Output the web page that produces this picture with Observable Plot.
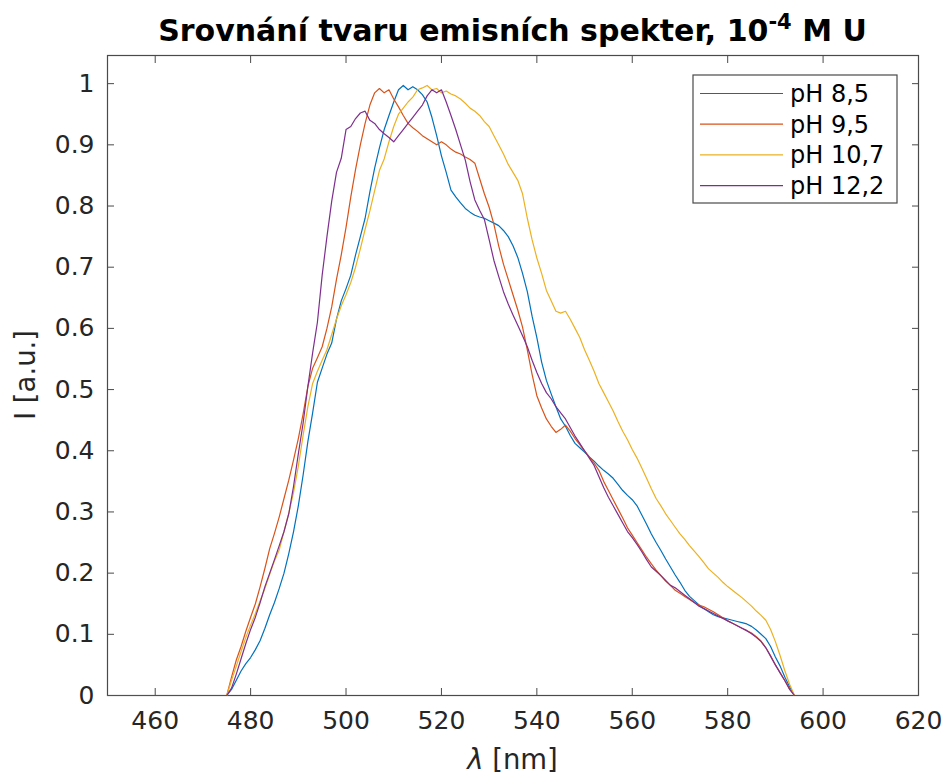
<!DOCTYPE html>
<html><head><meta charset="utf-8">
<script src="https://cdn.jsdelivr.net/npm/d3@7"></script>
<script src="https://cdn.jsdelivr.net/npm/@observablehq/plot@0.6"></script>
<style>
body{margin:0;background:#fff;}
#chart{width:946px;height:775px;}
</style>
</head><body><div id="chart"></div>
<script>
const wavelengths = [450,
475,476,477,478,479,480,481,482,483,484,
485,486,487,488,489,490,491,492,493,494,
495,496,497,498,499,500,501,502,503,504,
505,506,507,508,509,510,511,512,513,514,
515,516,517,518,519,520,521,522,523,524,
525,526,527,528,529,530,531,532,533,534,
535,536,537,538,539,540,541,542,543,544,
545,546,547,548,549,550,551,552,553,554,
555,556,557,558,559,560,561,562,563,564,
565,566,567,568,569,570,571,572,573,574,
575,576,577,578,579,580,581,582,583,584,
585,586,587,588,589,590,591,592,593,594,
620];

const ph85 = [0,
0, 0.01, 0.025, 0.04, 0.052, 0.062, 0.075, 0.09, 0.11, 0.132,
0.152, 0.175, 0.2, 0.232, 0.268, 0.31, 0.36, 0.415, 0.462, 0.512,
0.535, 0.558, 0.576, 0.615, 0.645, 0.665, 0.687, 0.72, 0.75, 0.78,
0.823, 0.862, 0.895, 0.925, 0.948, 0.97, 0.99, 0.997, 0.99, 0.995,
0.99, 0.982, 0.97, 0.945, 0.915, 0.882, 0.855, 0.826, 0.815, 0.805,
0.796, 0.79, 0.785, 0.782, 0.78, 0.776, 0.772, 0.768, 0.76, 0.75,
0.735, 0.716, 0.69, 0.66, 0.62, 0.585, 0.545, 0.515, 0.493, 0.472,
0.452, 0.44, 0.425, 0.412, 0.405, 0.398, 0.39, 0.383, 0.375, 0.368,
0.362, 0.355, 0.345, 0.335, 0.327, 0.32, 0.31, 0.295, 0.28, 0.264,
0.25, 0.237, 0.223, 0.21, 0.197, 0.185, 0.172, 0.162, 0.155, 0.148,
0.142, 0.137, 0.132, 0.129, 0.127, 0.125, 0.123, 0.121, 0.119, 0.117,
0.113, 0.107, 0.1, 0.093, 0.08, 0.063, 0.048, 0.03, 0.014, 0,
0];

const ph95 = [0,
0, 0.03, 0.058, 0.08, 0.105, 0.128, 0.15, 0.178, 0.208, 0.24,
0.265, 0.292, 0.322, 0.352, 0.385, 0.42, 0.46, 0.505, 0.535, 0.552,
0.57, 0.6, 0.635, 0.68, 0.72, 0.765, 0.815, 0.86, 0.9, 0.935,
0.965, 0.985, 0.992, 0.985, 0.99, 0.975, 0.962, 0.948, 0.935, 0.928,
0.922, 0.915, 0.91, 0.905, 0.9, 0.905, 0.9, 0.893, 0.888, 0.885,
0.88, 0.876, 0.87, 0.845, 0.82, 0.798, 0.77, 0.735, 0.705, 0.68,
0.655, 0.63, 0.602, 0.565, 0.525, 0.49, 0.47, 0.452, 0.44, 0.43,
0.435, 0.442, 0.432, 0.42, 0.41, 0.4, 0.39, 0.38, 0.368, 0.35,
0.335, 0.32, 0.305, 0.29, 0.274, 0.262, 0.25, 0.238, 0.226, 0.215,
0.205, 0.196, 0.187, 0.18, 0.172, 0.167, 0.162, 0.157, 0.152, 0.148,
0.145, 0.141, 0.137, 0.132, 0.127, 0.122, 0.118, 0.114, 0.11, 0.106,
0.102, 0.096, 0.089, 0.078, 0.065, 0.05, 0.037, 0.024, 0.01, 0,
0];

const ph107 = [0,
0, 0.025, 0.048, 0.072, 0.095, 0.115, 0.134, 0.155, 0.175, 0.198,
0.22, 0.238, 0.268, 0.298, 0.332, 0.375, 0.425, 0.472, 0.51, 0.53,
0.548, 0.565, 0.59, 0.615, 0.637, 0.655, 0.675, 0.7, 0.73, 0.762,
0.792, 0.825, 0.858, 0.877, 0.905, 0.93, 0.95, 0.96, 0.97, 0.978,
0.99, 0.993, 0.997, 0.99, 0.992, 0.985, 0.988, 0.983, 0.98, 0.975,
0.968, 0.96, 0.955, 0.948, 0.938, 0.93, 0.915, 0.9, 0.885, 0.868,
0.855, 0.842, 0.82, 0.78, 0.745, 0.715, 0.69, 0.662, 0.645, 0.628,
0.625, 0.628, 0.615, 0.6, 0.585, 0.565, 0.548, 0.53, 0.51, 0.495,
0.48, 0.465, 0.448, 0.432, 0.418, 0.402, 0.388, 0.372, 0.355, 0.338,
0.322, 0.31, 0.297, 0.286, 0.275, 0.264, 0.255, 0.245, 0.236, 0.227,
0.217, 0.207, 0.2, 0.193, 0.185, 0.178, 0.172, 0.166, 0.16, 0.153,
0.146, 0.138, 0.131, 0.123, 0.108, 0.088, 0.065, 0.04, 0.018, 0,
0];

const ph122 = [0,
0, 0.012, 0.035, 0.06, 0.085, 0.108, 0.128, 0.152, 0.178, 0.2,
0.222, 0.245, 0.268, 0.297, 0.342, 0.395, 0.445, 0.505, 0.56, 0.61,
0.687, 0.75, 0.808, 0.855, 0.878, 0.925, 0.93, 0.943, 0.952, 0.955,
0.94, 0.935, 0.925, 0.918, 0.912, 0.905, 0.915, 0.925, 0.935, 0.945,
0.955, 0.965, 0.98, 0.99, 0.985, 0.99, 0.97, 0.948, 0.925, 0.9,
0.875, 0.84, 0.81, 0.793, 0.778, 0.745, 0.711, 0.685, 0.66, 0.64,
0.622, 0.605, 0.588, 0.57, 0.548, 0.528, 0.51, 0.495, 0.485, 0.472,
0.462, 0.452, 0.438, 0.424, 0.412, 0.4, 0.388, 0.376, 0.358, 0.34,
0.324, 0.31, 0.296, 0.282, 0.268, 0.258, 0.247, 0.235, 0.222, 0.21,
0.203, 0.196, 0.188, 0.18, 0.176, 0.17, 0.164, 0.158, 0.152, 0.146,
0.142, 0.138, 0.134, 0.13, 0.126, 0.122, 0.118, 0.114, 0.11, 0.106,
0.101, 0.095, 0.088, 0.078, 0.064, 0.05, 0.037, 0.024, 0.01, 0,
0];

const seriesNames = ["pH 8,5", "pH 9,5", "pH 10,7", "pH 12,2"];
const seriesColors = ["#0072BD", "#D95319", "#EDB120", "#7E2F8E"];
const seriesValues = [ph85, ph95, ph107, ph122];

const xTicks = [460, 480, 500, 520, 540, 560, 580, 600, 620];
const yTicks = [0, 0.1, 0.2, 0.3, 0.4, 0.5, 0.6, 0.7, 0.8, 0.9, 1];
const xDomain = [450, 620];
const yDomain = [0, 1.046];

const titleMain = "Srovnání tvaru emisních spekter, 10";
const titleSup = "-4";
const titleTail = " M U";
const xLabelSymbol = "λ";
const xLabelRest = " [nm]";
const yLabel = "I [a.u.]";

const rows = [];
seriesValues.forEach((vals, i) => vals.forEach((v, j) => rows.push({series: seriesNames[i], nm: wavelengths[j], v})));

const axisColor = "#262626";
const lineColor = "#4a4a4a";
const W = 946, H = 775;
const mL = 107, mR = 28, mT = 55, mB = 80;

const plot = Plot.plot({
  width: W, height: H,
  marginLeft: mL, marginRight: mR, marginTop: mT, marginBottom: mB,
  style: {fontFamily: "DejaVu Sans", background: "white", color: axisColor},
  x: {domain: xDomain},
  y: {domain: yDomain},
  color: {domain: seriesNames, range: seriesColors},
  marks: [
    Plot.frame({stroke: lineColor, strokeWidth: 1.2}),
    Plot.axisX(xTicks, {anchor: "bottom", tickSize: 0, tickPadding: 16, fontSize: 25, fill: axisColor, label: null, tickFormat: d => String(d)}),
    Plot.axisY(yTicks, {anchor: "left", tickSize: 0, tickPadding: 13, fontSize: 25, fill: axisColor, label: null, tickFormat: d => String(d)}),
    Plot.axisX(xTicks, {anchor: "bottom", tickSize: -7, fill: "none", stroke: lineColor, label: null}),
    Plot.axisX(xTicks, {anchor: "top", tickSize: -7, fill: "none", stroke: lineColor, label: null}),
    Plot.axisY(yTicks, {anchor: "left", tickSize: -7, fill: "none", stroke: lineColor, label: null}),
    Plot.axisY(yTicks, {anchor: "right", tickSize: -7, fill: "none", stroke: lineColor, label: null}),
    Plot.line(rows, {x: "nm", y: "v", z: "series", stroke: "series", strokeWidth: 1.2})
  ]
});

const svg = d3.select(plot);
const fam = "DejaVu Sans";

// title
const t = svg.append("text")
  .attr("x", (mL + (W - mR)) / 2).attr("y", 41)
  .attr("text-anchor", "middle")
  .attr("font-family", fam).attr("font-weight", "bold").attr("font-size", 30).attr("fill", "#000");
t.append("tspan").text(titleMain);
t.append("tspan").attr("font-size", 21).attr("dy", -12).text(titleSup);
t.append("tspan").attr("dy", 12).text(titleTail);

// x label
const xl = svg.append("text")
  .attr("x", (mL + (W - mR)) / 2).attr("y", 769)
  .attr("text-anchor", "middle")
  .attr("font-family", fam).attr("font-size", 27.5).attr("fill", axisColor);
xl.append("tspan").attr("font-style", "italic").text(xLabelSymbol);
xl.append("tspan").text(xLabelRest);

// y label
svg.append("text")
  .attr("transform", `translate(35,${(mT + H - mB) / 2}) rotate(-90)`)
  .attr("text-anchor", "middle")
  .attr("font-family", fam).attr("font-size", 27.5).attr("fill", axisColor)
  .text(yLabel);

// legend
const color = plot.scale("color");
const lg = svg.append("g");
lg.append("rect").attr("x", 693).attr("y", 75).attr("width", 204).attr("height", 128)
  .attr("fill", "white").attr("stroke", lineColor).attr("stroke-width", 1.2);
seriesNames.forEach((name, i) => {
  const cy = 93.5 + i * 30.7;
  lg.append("line").attr("x1", 700).attr("x2", 783).attr("y1", cy).attr("y2", cy)
    .attr("stroke", color.apply(name)).attr("stroke-width", 1.2);
  lg.append("text").attr("x", 790).attr("y", cy).attr("dy", "0.35em")
    .attr("text-anchor", "start")
    .attr("font-family", fam).attr("font-size", 24).attr("fill", "#000").text(name);
});

document.getElementById("chart").appendChild(plot);
</script>
</body></html>
